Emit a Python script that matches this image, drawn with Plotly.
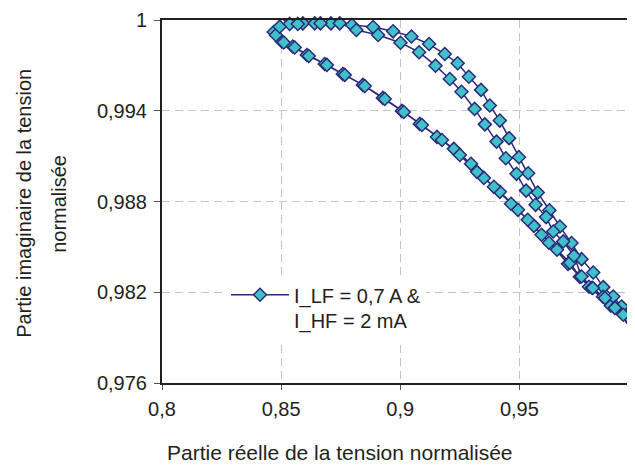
import plotly.graph_objects as go

# real part / imaginary part of the normalised voltage, traced twice round the loop
reel = [
    0.9973, 0.9884, 0.9792, 0.9704, 0.9624, 0.9561, 0.9494, 0.9418, 0.9351, 0.9297,
    0.9225, 0.9154, 0.9082, 0.9007, 0.8927, 0.8843, 0.8759, 0.8683, 0.8608, 0.8549,
    0.8503, 0.8469, 0.8501,
    0.8536, 0.8591, 0.8641, 0.8709, 0.8797, 0.8886, 0.8970, 0.9047, 0.9121, 0.9187,
    0.9241, 0.9288, 0.9339, 0.9376, 0.9418, 0.9457, 0.9498, 0.9537, 0.9577, 0.9626,
    0.9670, 0.9719, 0.9761, 0.9810, 0.9852, 0.9894, 0.9929, 0.9964,
    0.9952, 0.9901, 0.9851, 0.9805, 0.9754, 0.9712, 0.9658, 0.9593, 0.9535, 0.9465,
    0.9393, 0.9322, 0.9250, 0.9175, 0.9091, 0.9015, 0.8935, 0.8851, 0.8767, 0.8692,
    0.8616, 0.8557, 0.8511, 0.8478, 0.8494,
    0.8570, 0.8616, 0.8665, 0.8746, 0.8816,
    0.8907, 0.9001, 0.9079, 0.9148, 0.9208, 0.9257, 0.9312, 0.9355, 0.9404, 0.9443,
    0.9488, 0.9528, 0.9568, 0.9612, 0.9642, 0.9684, 0.9729, 0.9761, 0.9808, 0.9859,
    0.9901, 0.9936, 0.9977,
]
imag = [
    0.98005, 0.98111, 0.98236, 0.98388, 0.98527, 0.98639, 0.98745, 0.98864, 0.98956, 0.99049,
    0.99148, 0.99227, 0.99313, 0.99399, 0.99485, 0.99571, 0.99643, 0.99709, 0.99769, 0.99825,
    0.99858, 0.99921, 1.00011,
    0.99974, 0.99978, 0.99978, 0.99978, 0.99967, 0.99954, 0.99925, 0.99891, 0.99841, 0.99775,
    0.99714, 0.99625, 0.99538, 0.99435, 0.99335, 0.99219, 0.99093, 0.98987, 0.98859, 0.98742,
    0.98635, 0.98525, 0.98419, 0.98331, 0.98234, 0.98172, 0.98106, 0.98030,
    0.98045, 0.98098, 0.98170, 0.98230, 0.98302, 0.98395, 0.98481, 0.98580, 0.98679, 0.98785,
    0.98897, 0.98996, 0.99108, 0.99207, 0.99306, 0.99392, 0.99478, 0.99564, 0.99637, 0.99703,
    0.99762, 0.99818, 0.99851, 0.99901, 0.99956,
    0.99974, 1.00003, 0.99978, 0.99978, 0.99934,
    0.99901, 0.99850, 0.99787, 0.99698, 0.99610, 0.99526, 0.99412, 0.99310, 0.99196, 0.99086,
    0.98983, 0.98872, 0.98778, 0.98697, 0.98602, 0.98536, 0.98441, 0.98304, 0.98228, 0.98162,
    0.98096, 0.98051, 0.97999,
]
serie_nom = "I_LF = 0,7 A &<br>I_HF = 2 mA"

navy = "#2B2A7B"
fnt = "Liberation Sans, Arial, sans-serif"
ink = "#231F20"

fig = go.Figure()
fig.add_scatter(x=reel, y=imag, mode="lines+markers", name=serie_nom,
                line=dict(color=navy, width=1.5),
                marker=dict(symbol="diamond", size=10, color="#40C0C8",
                            line=dict(color=navy, width=1.5)),
                cliponaxis=False)

# page body has an 8px margin, so the figure is 627x460
fig.update_layout(
    width=627, height=460,
    margin=dict(l=154, r=0, t=12, b=85),
    plot_bgcolor="white", paper_bgcolor="white",
    separators=", ",
    font=dict(family=fnt, size=20, color=ink),
    showlegend=True,
    legend=dict(x=0.1353, y=0.297, xanchor="left", yanchor="top", bgcolor="white",
                borderwidth=0, itemwidth=58, valign="top",
                font=dict(family=fnt, size=20, color=ink)),
)
fig.update_xaxes(range=[0.8, 0.99853], tick0=0.8, dtick=0.05,
                 showline=True, linecolor=ink, linewidth=2, mirror=True,
                 ticks="outside", ticklen=5, tickcolor="#555", ticklabelstandoff=2,
                 showgrid=True, gridcolor="#C4C4C4", griddash="8px,5px", gridwidth=1,
                 zeroline=False)
fig.update_yaxes(range=[0.976, 1.0], tick0=0.976, dtick=0.006,
                 showline=True, linecolor=ink, linewidth=2,
                 ticks="outside", ticklen=6, tickcolor="#555", ticklabelstandoff=3,
                 showgrid=True, gridcolor="#C4C4C4", griddash="8px,5px", gridwidth=1,
                 zeroline=False)

# the "1" tick of the x axis sits just past the right edge of the page
fig.add_annotation(text="1", xref="paper", yref="paper", x=(638 - 162) / 473, y=0,
                   yshift=-29, yanchor="middle", xanchor="center", showarrow=False,
                   font=dict(size=20))
fig.add_annotation(text="Partie réelle de la tension normalisée", xref="paper", yref="paper",
                   x=(340 - 162) / 473, y=0, yshift=-69, yanchor="middle", xanchor="center",
                   showarrow=False, font=dict(size=21))
fig.add_annotation(text="Partie imaginaire de la tension", xref="paper", yref="paper",
                   x=0, xshift=24 - 162, y=0.4935, xanchor="center", yanchor="middle",
                   textangle=-90, showarrow=False, font=dict(size=20))
fig.add_annotation(text="normalisée", xref="paper", yref="paper",
                   x=0, xshift=59 - 162, y=0.4935, xanchor="center", yanchor="middle",
                   textangle=-90, showarrow=False, font=dict(size=20))

fig.write_html("out.html")
